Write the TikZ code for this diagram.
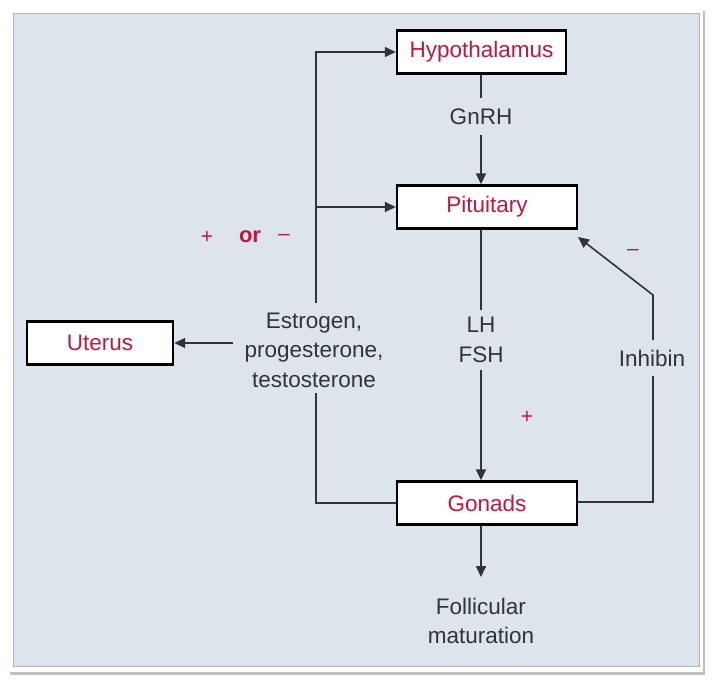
\documentclass[tikz,border=0pt]{standalone}
\usepackage{fontspec}
\setmainfont{Liberation Sans}
\usetikzlibrary{arrows.meta,calc}
\definecolor{panel}{HTML}{DDE4EC}
\definecolor{redtxt}{HTML}{C4163C}
\definecolor{ink}{HTML}{333333}
\tikzset{
  organ/.style={draw=black, line width=2.4pt, fill=white, text=redtxt, minimum height=43pt, inner sep=0pt, font=\fontsize{22.5}{26}\selectfont},
  lbl/.style={text=ink, font=\fontsize{22.5}{29.5}\selectfont, align=center, inner sep=0pt},
  sign/.style={text=redtxt, font=\fontsize{21}{24}\selectfont, inner sep=0pt},
  conn/.style={draw=ink, line width=1.6pt},
  arr/.style={conn, -{Triangle[length=11pt,width=10pt]}}
}
\begin{document}
\begin{tikzpicture}[x=1pt,y=-1pt]
\useasboundingbox (0,0) rectangle (713,681);
\fill[white] (0,0) rectangle (713,681);
\fill[black!25] (10,11) rectangle (705,675);
\fill[white] (7,7) rectangle (703,672);
\fill[panel] (13,13) rectangle (699,666);
\draw[black!30, line width=0.6pt] (13,13) rectangle (699,666);

\node[organ, minimum width=169pt] (hyp) at (481.5,52) {Hypothalamus};
\node[organ, minimum width=180pt] (pit) at (487,207) {Pituitary};
\node[organ, minimum width=146pt] (ut) at (100,343) {Uterus};
\node[organ, minimum width=180pt] (gon) at (487,503) {Gonads};

\node[lbl] (gnrh) at (481,117) {GnRH};
\node[lbl] (lhfsh) at (481,340) {LH\\FSH};
\node[lbl] (ster) at (314,350) {Estrogen,\\progesterone,\\testosterone};
\node[lbl] (inh) at (652,358) {Inhibin};
\node[lbl] (foll) at (481,621) {Follicular\\maturation};

\node[sign] (p1) at (207,237) {+};
\node[sign, font=\fontsize{22}{24}\selectfont\bfseries] (or) at (250,237) {or};
\node[sign] (m1) at (284,237) {–};
\node[sign] (p2) at (527,417) {+};
\node[sign] (m2) at (633,252) {–};

% GnRH
\draw[conn] (hyp.south -| gnrh) -- (481,98);
\draw[arr] (481,135) -- (pit.north -| gnrh);
% LH FSH
\draw[conn] (pit.south -| lhfsh) -- (481,310);
\draw[arr] (481,370) -- (gon.north -| lhfsh);
% gonads down
\draw[arr] (gon.south -| foll) -- (481,577);
% steroid loop
\coordinate (bl) at (316,503);
\coordinate (tl) at (316,52);
\draw[conn] (gon.west) -- (bl) -- (316,393);
\draw[arr] (316,303) -- (tl) -- (hyp.west);
\draw[arr] (316,207) -- (pit.west);
\draw[arr] (233,343) -- (ut.east);
% inhibin
\coordinate (ir) at (653,502);
\draw[conn] (gon.east |- ir) -- (ir) -- (653,376);
\draw[arr] (653,340) -- (653,295) -- (578,237);
\end{tikzpicture}
\end{document}
